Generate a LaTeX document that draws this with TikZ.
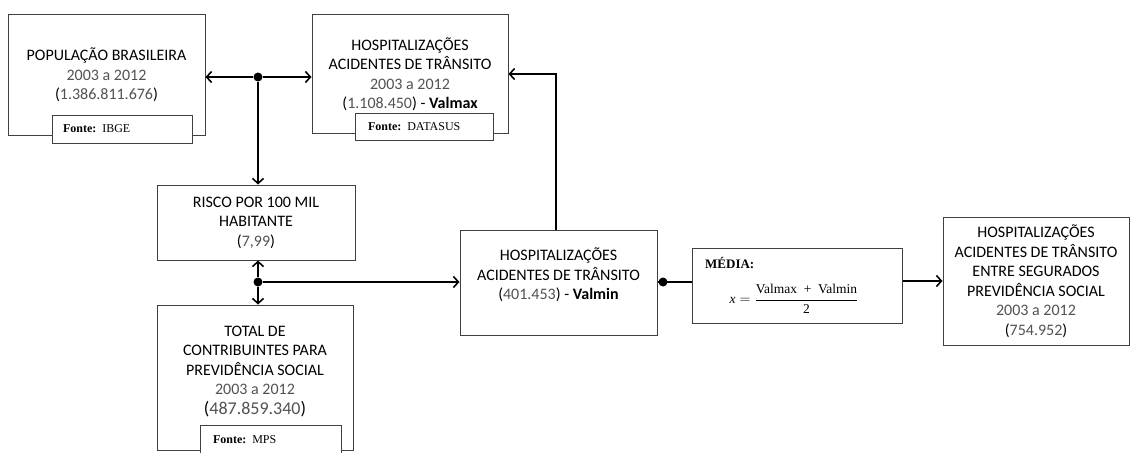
\documentclass[tikz,border=0pt]{standalone}
\usepackage{fontspec}
\setmainfont{Carlito}
\newfontfamily\fonteserif{Liberation Serif}
\usetikzlibrary{arrows.meta}
\newcommand\cinza[1]{\textcolor{black!68}{#1}}

\begin{document}
\begin{tikzpicture}[x=1pt,y=-1pt,
    caixa/.style={draw=black!75, line width=1pt, fill=white, align=center, inner sep=0pt,
      font=\fontsize{16}{19.5}\selectfont},
    fonte/.style={draw=black!75, line width=1pt, fill=white, align=left, inner ysep=0pt,
      font=\fonteserif\fontsize{12}{14}\selectfont},
    seta/.style={line width=1.6pt, -{Straight Barb[length=5pt,width=11pt]}},
    linha/.style={line width=1.6pt},
    ponto/.style={circle, fill=black, inner sep=0pt, minimum size=9pt}]
    \useasboundingbox (0,0) rectangle (1131,452);
    % top boxes
    \node[caixa, minimum width=197pt, minimum height=120pt] (pop) at (106.5,75)
      {POPULAÇÃO BRASILEIRA\\ \cinza{2003 a 2012}\\ (\cinza{1.386.811.676})};
    \node[caixa, minimum width=196pt, minimum height=118pt] (hmax) at (410,74)
      {HOSPITALIZAÇÕES\\ ACIDENTES DE TRÂNSITO\\ \cinza{2003 a 2012}\\ (\cinza{1.108.450}) - \textbf{Valmax}};
    % left column
    \node[caixa, minimum width=198pt, minimum height=75pt] (risco) at (256,222.5)
      {RISCO POR 100 MIL\\ HABITANTE\\ (\cinza{7,99})};
    \node[caixa, minimum width=196pt, minimum height=145pt] (contrib) at (255,377.5)
      {TOTAL DE\\ CONTRIBUINTES PARA\\ PREVIDÊNCIA SOCIAL\\ \cinza{2003 a 2012}\\ {\fontsize{18}{19.5}\selectfont(\cinza{487.859.340})}\\[-5pt]\mbox{}};
    % middle and right
    \node[caixa, minimum width=197pt, minimum height=105pt] (hmin) at (558.5,282.5)
      {HOSPITALIZAÇÕES\\ ACIDENTES DE TRÂNSITO\\ (\cinza{401.453}) - \textbf{Valmin}\\[-2pt]\mbox{}};
    \node[caixa, minimum width=210pt, minimum height=75pt] (media) at (797,285.5) {};
    \node[anchor=west, inner sep=0pt, font=\fonteserif\bfseries\fontsize{13}{15}\selectfont] (mediatit) at (705,263) {MÉDIA:};
    \node[inner sep=0pt, font=\fonteserif\fontsize{13.5}{15}\selectfont] (formula) at (794,299)
      {$\mbox{\itshape x} = \displaystyle\frac{\mbox{Valmax\ \ +\ \ Valmin}}{\mbox{2}}$};
    \node[caixa, minimum width=186pt, minimum height=128pt] (hseg) at (1036,281)
      {HOSPITALIZAÇÕES\\ ACIDENTES DE TRÂNSITO\\ ENTRE SEGURADOS\\ PREVIDÊNCIA SOCIAL\\ \cinza{2003 a 2012}\\ (\cinza{754.952})};
    % sources
    \node[fonte, minimum height=28pt, inner xsep=11pt, text width=118pt] (fibge) at (122,129) {\textbf{Fonte:} IBGE};
    \node[fonte, minimum height=27pt, inner xsep=13pt, text width=112pt] (fdatasus) at (424,126.5) {\textbf{Fonte:} DATASUS};
    \node[fonte, minimum height=29pt, inner xsep=13pt, text width=115pt] (fmps) at (270.5,439.5) {\textbf{Fonte:} MPS};
    % connectors
    \node[ponto] (p1) at (258,77) {};
    \draw[seta] (p1) -- (p1 -| pop.east);
    \draw[seta] (p1) -- (p1 -| hmax.west);
    \draw[seta] (p1) -- (p1 |- risco.north);
    \node[ponto] (p2) at (258,282) {};
    \draw[seta] (p2) -- (p2 |- risco.south);
    \draw[seta] (p2) -- (p2 |- contrib.north);
    \draw[seta] (p2) -- (p2 -| hmin.west);
    \draw[seta] ([xshift=-2.5pt]hmin.north) |- (hmax.east);
    \node[ponto] (p3) at (663,282) {};
    \draw[linha] (hmin.east |- p3) -- (p3 -| media.west);
    \draw[seta] (media.east |- hseg.west) -- (hseg.west);
\end{tikzpicture}
\end{document}
